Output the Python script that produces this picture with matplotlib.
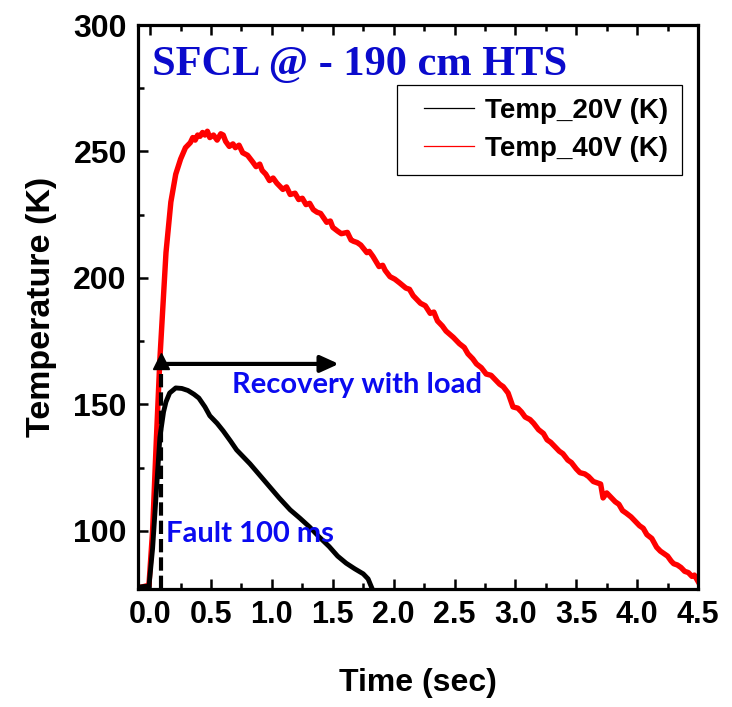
import matplotlib
matplotlib.use("Agg")
import matplotlib.pyplot as plt
from matplotlib import font_manager
from matplotlib.lines import Line2D
from matplotlib.patches import Rectangle

# ---------------- data ----------------
t_40v = [-0.10, -0.05, -0.01, 0.02, 0.05, 0.08, 0.10, 0.13, 0.17, 0.21, 0.25, 0.29,
         0.33, 0.35, 0.37, 0.39, 0.41, 0.43, 0.45, 0.47, 0.49, 0.52, 0.55, 0.58, 0.60,
         0.62, 0.65, 0.68, 0.70, 0.73, 0.76, 0.80, 0.84, 0.87, 0.90, 0.92, 0.95, 0.98,
         1.01, 1.04, 1.09, 1.12, 1.15, 1.19, 1.22, 1.25, 1.28, 1.31, 1.34, 1.37, 1.40,
         1.45, 1.48, 1.50, 1.54, 1.57, 1.62, 1.65, 1.67, 1.70, 1.73, 1.78, 1.80, 1.83,
         1.88, 1.91, 1.93, 1.97, 2.01, 2.05, 2.10, 2.13, 2.16, 2.22, 2.26, 2.30, 2.33,
         2.36, 2.40, 2.43, 2.49, 2.54, 2.58, 2.61, 2.65, 2.68, 2.72, 2.76, 2.80, 2.83,
         2.87, 2.90, 2.94, 2.98, 3.02, 3.05, 3.08, 3.12, 3.15, 3.19, 3.23, 3.26, 3.29,
         3.33, 3.36, 3.39, 3.43, 3.46, 3.50, 3.53, 3.57, 3.60, 3.64, 3.67, 3.70, 3.72,
         3.75, 3.78, 3.82, 3.85, 3.88, 3.91, 3.95, 3.98, 4.02, 4.05, 4.08, 4.12, 4.16,
         4.19, 4.22, 4.25, 4.28, 4.30, 4.33, 4.36, 4.39, 4.42, 4.45, 4.47, 4.50]
temp_40v = [77.5, 78.0, 78.5, 100.0, 135.0, 168.0, 185.0, 210.0, 230.0, 241.0, 247.0, 251.5,
            253.5, 255.5, 254.5, 256.5, 256.0, 257.5, 256.5, 258.0, 255.5, 256.5, 254.5, 257.0, 256.5,
            254.0, 252.0, 253.0, 251.5, 252.5, 249.5, 248.5, 246.0, 244.0, 245.0, 242.5, 241.0, 238.5,
            239.5, 237.5, 235.0, 236.0, 233.0, 233.5, 231.0, 231.5, 229.0, 229.5, 227.0, 226.0, 225.5,
            222.0, 222.5, 220.0, 218.5, 217.5, 218.0, 215.0, 214.5, 214.0, 213.0, 210.0, 210.5, 208.5,
            204.5, 205.0, 203.0, 200.5, 199.5, 198.0, 196.0, 195.5, 193.0, 190.0, 189.0, 186.0, 186.5,
            183.0, 181.0, 179.0, 176.5, 174.0, 172.5, 170.0, 168.0, 166.0, 164.5, 162.0, 161.5, 160.0,
            158.0, 157.0, 154.5, 149.0, 148.5, 147.0, 145.0, 144.0, 142.5, 140.0, 138.5, 136.0, 135.0,
            133.0, 131.5, 130.5, 128.0, 127.0, 124.5, 123.0, 122.5, 121.5, 119.5, 119.0, 118.5, 113.0,
            115.0, 113.5, 111.5, 110.5, 108.0, 107.0, 105.5, 104.0, 102.0, 101.0, 98.5, 97.0, 93.5,
            92.0, 91.0, 90.0, 88.0, 87.0, 86.5, 85.5, 84.0, 83.5, 82.0, 82.5, 80.0]

t_20v = [-0.12, -0.05, -0.01, 0.02, 0.05, 0.08, 0.11, 0.13, 0.16, 0.21, 0.26, 0.31, 0.36,
         0.40, 0.45, 0.49, 0.55, 0.60, 0.66, 0.71, 0.77, 0.82, 0.90, 0.98, 1.06, 1.15,
         1.23, 1.31, 1.39, 1.47, 1.54, 1.61, 1.68, 1.75, 1.79, 1.82]
temp_20v = [77.5, 78.0, 78.0, 93.0, 115.0, 137.0, 147.0, 151.0, 154.5, 156.5, 156.3, 155.5, 154.0,
            152.5, 149.0, 145.5, 142.5, 139.5, 135.5, 132.0, 129.0, 126.5, 122.0, 117.5, 113.0, 108.3,
            105.0, 101.5, 97.5, 93.8, 90.0, 87.2, 85.0, 83.0, 81.0, 77.5]

series_labels = ["Temp_20V (K)", "Temp_40V (K)"]
x_ticks = [0.0, 0.5, 1.0, 1.5, 2.0, 2.5, 3.0, 3.5, 4.0, 4.5]
x_minor = [0.25, 0.75, 1.25, 1.75, 2.25, 2.75, 3.25, 3.75, 4.25]
y_ticks = [100, 150, 200, 250, 300]
y_minor = [125, 175, 225, 275]
fault_time = 0.09      # s, dashed marker of fault duration
arrow_level = 166.0    # K, recovery arrow height
arrow_end = 1.55       # s

# ---------------- fonts ----------------
names = {f.name for f in font_manager.fontManager.ttflist}
sans = "Liberation Sans"
serif = "Liberation Serif"
calib = "Lato" if "Lato" in names else "Open Sans"

fig = plt.figure(figsize=(7.32, 7.07), dpi=100)
ax = fig.add_axes([0.1885, 0.1669, 0.7651, 0.7977])

ax.plot(t_20v, temp_20v, color="black", lw=3.5, solid_joinstyle="round", zorder=3)
ax.plot(t_40v, temp_40v, color="#ff0000", lw=3.9, solid_joinstyle="round", zorder=2)

# fault dashed arrow
ax.plot([fault_time, fault_time], [77, arrow_level - 2], color="black", lw=3.0,
        linestyle=(0, (3.2, 1.2)), zorder=4)
ax.plot([fault_time], [arrow_level + 1.0], marker="^", color="black", markersize=12,
        linestyle="none", zorder=5)
ax.annotate("", xy=(arrow_end, arrow_level), xytext=(fault_time + 0.01, arrow_level),
            arrowprops=dict(arrowstyle="-|>,head_length=1.1,head_width=0.5",
                            color="black", lw=3.0, shrinkA=0, shrinkB=0), zorder=5)

ax.set_xlim(-0.1, 4.5)
ax.set_ylim(77, 300)
ax.set_xticks(x_ticks)
ax.set_yticks(y_ticks)
ax.set_xticks(x_minor, minor=True)
ax.set_yticks(y_minor, minor=True)
ax.set_xticklabels([f"{v:.1f}" for v in x_ticks], fontfamily=sans, fontweight="bold", fontsize=22)
ax.set_yticklabels([str(v) for v in y_ticks], fontfamily=sans, fontweight="bold", fontsize=23)

ax.tick_params(which="major", direction="in", length=7, width=1.8, pad=8,
               top=True, right=False)
ax.tick_params(which="minor", direction="in", length=4, width=1.8, top=True, right=False)
for s in ax.spines.values():
    s.set_linewidth(2.3)

ax.set_xlabel("Time (sec)", fontfamily=sans, fontweight="bold", fontsize=23, labelpad=27)
ax.set_ylabel("Temperature (K)", fontfamily=sans, fontweight="bold", fontsize=24.5, labelpad=12)

ax.text(0.025, 0.962, "SFCL @ - 190 cm HTS", transform=ax.transAxes, fontfamily=serif,
        fontweight="bold", fontsize=30.5, color="#0a0acc", va="top", ha="left")
ax.text(0.167, 0.362, "Recovery with load", transform=ax.transAxes, fontfamily=calib,
        fontweight="bold", fontsize=21, color="#0a0af0", va="center", ha="left")
ax.text(0.05, 0.098, "Fault 100 ms", transform=ax.transAxes, fontfamily=calib,
        fontweight="bold", fontsize=21, color="#0a0af0", va="center", ha="left")

# legend frame drawn as a rectangle matching the reference box
ax.add_patch(Rectangle((0.4625, 0.734), 0.5085, 0.1596, transform=ax.transAxes,
                       facecolor="white", edgecolor="black", lw=0.9, zorder=6))
handles = [Line2D([], [], color="black", lw=0.9), Line2D([], [], color="#ff0000", lw=0.9)]
leg = ax.legend(handles, series_labels, loc="center right", bbox_to_anchor=(0.946, 0.814),
                borderaxespad=0, frameon=False,
                prop=dict(family=sans, weight="bold", size=20), handlelength=1.8,
                handletextpad=0.4, labelspacing=0.45, borderpad=0.0)
leg.set_zorder(7)

fig.savefig("out.png", dpi=100)
